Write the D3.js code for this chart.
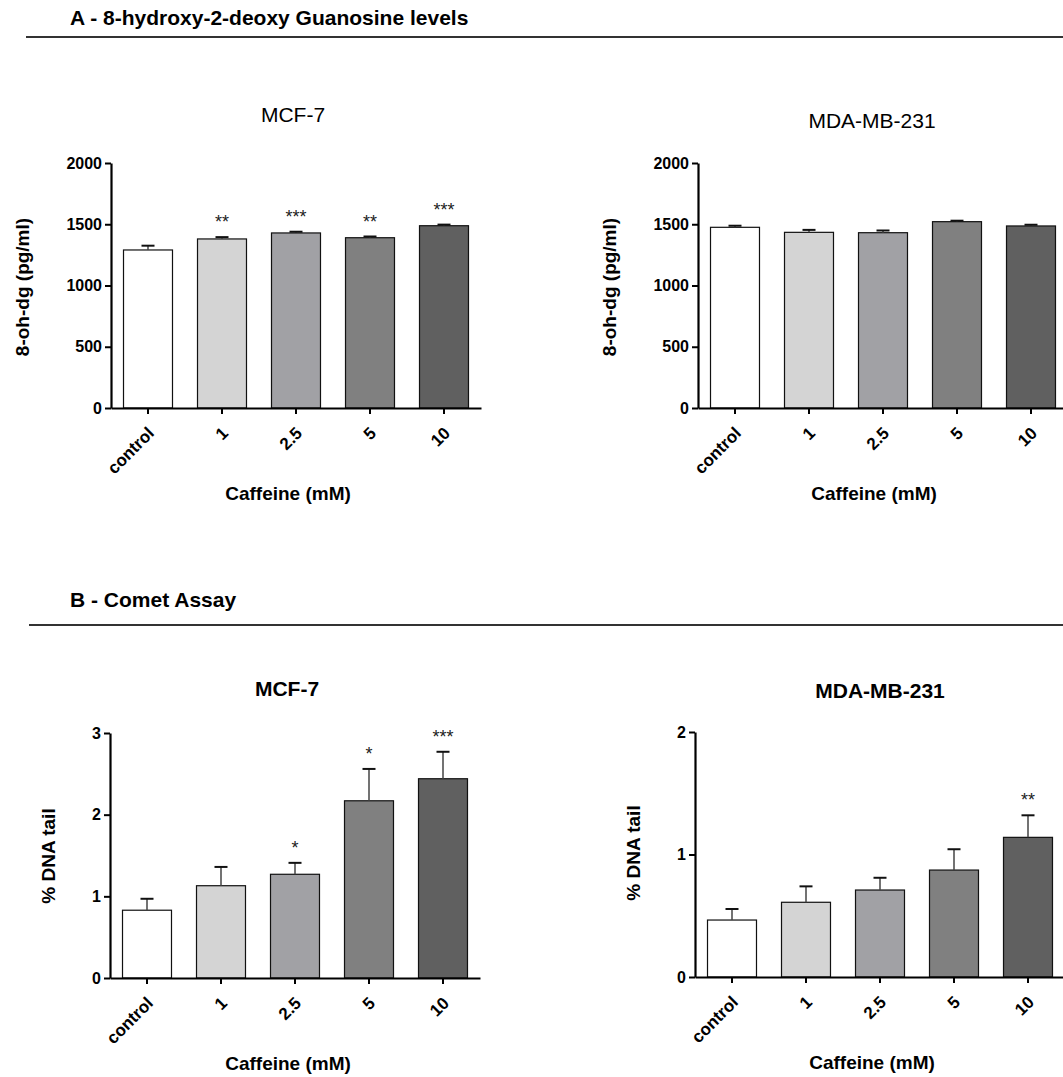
<!DOCTYPE html>
<html>
<head>
<meta charset="utf-8">
<script src="https://cdn.jsdelivr.net/npm/d3@7"></script>
<style>
  body { margin: 0; background: #fff; }
  svg { display: block; font-family: "Liberation Sans", Arial, sans-serif; }
</style>
</head>
<body>
<script>
'use strict';

// caffeine doses, shared by all four panels
const doses = ["control", "1", "2.5", "5", "10"];

// A - 8-oh-dg (pg/ml)
const ohdgTicks = [0, 500, 1000, 1500, 2000];
const ohdgMcf7 = [1290, 1380, 1429, 1390, 1488];
const ohdgMcf7Err = [35, 15, 10, 10, 9];
const ohdgMcf7Sig = ["", "**", "***", "**", "***"];
const ohdgMda = [1475, 1434, 1431, 1521, 1486];
const ohdgMdaErr = [13, 20, 18, 8, 10];
const ohdgMdaSig = ["", "", "", "", ""];

// B - comet assay (% DNA tail)
const cometMcf7Ticks = [0, 1, 2, 3];
const cometMcf7 = [0.83, 1.13, 1.27, 2.17, 2.44];
const cometMcf7Err = [0.14, 0.23, 0.14, 0.39, 0.33];
const cometMcf7Sig = ["", "", "*", "*", "***"];
const cometMdaTicks = [0, 1, 2];
const cometMda = [0.465, 0.61, 0.71, 0.873, 1.14];
const cometMdaErr = [0.09, 0.13, 0.10, 0.17, 0.18];
const cometMdaSig = ["", "", "", "", "**"];

const fills = ["#ffffff", "#d4d4d4", "#a1a1a5", "#808080", "#606060"];

const svg = d3.select('body').append('svg')
  .attr('width', 1063)
  .attr('height', 1077);

function sectionHeader(text, y, lineY, lineX) {
  svg.append('text')
    .attr('x', 70)
    .attr('y', y)
    .style('font-size', '21px')
    .style('font-weight', 'bold')
    .text(text);
  svg.append('line')
    .attr('x1', lineX).attr('x2', 1063)
    .attr('y1', lineY).attr('y2', lineY)
    .attr('stroke', '#333')
    .attr('stroke-width', 2);
}

function drawPanel(p) {
  let y = d3.scaleLinear()
    .domain([0, p.ticks[p.ticks.length - 1]])
    .range([p.bottom, p.top]);
  let x = d3.scaleBand()
    .domain(doses)
    .range([p.left, p.left + 370])
    .paddingInner(0.338)
    .paddingOuter(0.169);

  let rows = doses.map((d, i) => ({ dose: d, v: p.values[i], e: p.errors[i], sig: p.sig[i], fill: fills[i] }));

  // bars
  svg.append('g').selectAll('rect')
    .data(rows)
    .enter()
    .append('rect')
    .attr('x', (d) => x(d.dose))
    .attr('y', (d) => y(d.v))
    .attr('width', x.bandwidth())
    .attr('height', (d) => p.bottom - y(d.v))
    .attr('fill', (d) => d.fill)
    .attr('stroke', '#111')
    .attr('stroke-width', 1.2);

  // error bars (upper only)
  let err = svg.append('g');
  let cx = (d) => x(d.dose) + x.bandwidth() / 2;
  err.selectAll('.stem')
    .data(rows)
    .enter()
    .append('line')
    .attr('x1', cx).attr('x2', cx)
    .attr('y1', (d) => y(d.v))
    .attr('y2', (d) => y(d.v + d.e))
    .attr('stroke', '#444')
    .attr('stroke-width', 1.5);
  err.selectAll('.cap')
    .data(rows)
    .enter()
    .append('line')
    .attr('x1', (d) => cx(d) - 6.5).attr('x2', (d) => cx(d) + 6.5)
    .attr('y1', (d) => y(d.v + d.e))
    .attr('y2', (d) => y(d.v + d.e))
    .attr('stroke', '#111')
    .attr('stroke-width', 2);

  // significance stars
  svg.append('g').selectAll('text')
    .data(rows.filter((d) => d.sig !== ""))
    .enter()
    .append('text')
    .attr('x', cx)
    .attr('y', (d) => y(d.v + d.e) - 9)
    .attr('text-anchor', 'middle')
    .style('font-size', '18px')
    .style('fill', '#222')
    .text((d) => d.sig);

  // axes
  let yAxis = d3.axisLeft(y).tickValues(p.ticks).tickFormat(d3.format('d'))
    .tickSize(6).tickSizeOuter(0).tickPadding(3);
  let gy = svg.append('g')
    .attr('transform', 'translate(' + p.left + ',0)')
    .call(yAxis);
  gy.select('.domain').attr('stroke', '#000').attr('stroke-width', 2.2);
  gy.selectAll('.tick line').attr('stroke', '#000').attr('stroke-width', 2);
  gy.selectAll('.tick text')
    .style('font-size', '16px')
    .style('font-weight', 'bold')
    .style('font-family', '"Liberation Sans", Arial, sans-serif')
    .attr('fill', '#000');

  let xAxis = d3.axisBottom(x).tickSize(6).tickSizeOuter(0);
  let gx = svg.append('g')
    .attr('transform', 'translate(0,' + p.bottom + ')')
    .call(xAxis);
  gx.select('.domain').attr('stroke', '#000').attr('stroke-width', 2.2);
  gx.selectAll('.tick line').attr('stroke', '#000').attr('stroke-width', 2);
  gx.selectAll('.tick text')
    .attr('y', 0)
    .attr('dy', '0.35em')
    .attr('transform', 'translate(3,22)rotate(-45)')
    .attr('text-anchor', 'end')
    .style('font-size', '17px')
    .style('font-weight', 'bold')
    .style('font-family', '"Liberation Sans", Arial, sans-serif')
    .attr('fill', '#000');

  // title
  svg.append('text')
    .attr('x', p.titleX)
    .attr('y', p.titleY)
    .attr('text-anchor', 'middle')
    .attr('dominant-baseline', 'central')
    .style('font-size', '21px')
    .style('font-weight', p.titleBold ? 'bold' : 'normal')
    .text(p.title);

  // axis titles
  svg.append('text')
    .attr('transform', 'translate(' + p.yLabelX + ',' + p.yLabelY + ')rotate(-90)')
    .attr('text-anchor', 'middle')
    .attr('dominant-baseline', 'central')
    .style('font-size', '19px')
    .style('font-weight', 'bold')
    .text(p.yLabel);

  svg.append('text')
    .attr('x', p.xLabelX)
    .attr('y', p.bottom + 92)
    .attr('text-anchor', 'middle')
    .style('font-size', '19px')
    .style('font-weight', 'bold')
    .text('Caffeine (mM)');
}

sectionHeader('A - 8-hydroxy-2-deoxy Guanosine levels', 25, 37, 26);
sectionHeader('B - Comet Assay', 607, 625, 29);

drawPanel({
  values: ohdgMcf7, errors: ohdgMcf7Err, sig: ohdgMcf7Sig, ticks: ohdgTicks,
  left: 111, top: 163, bottom: 408,
  title: 'MCF-7', titleX: 293, titleY: 114, titleBold: false,
  yLabel: '8-oh-dg (pg/ml)', yLabelX: 22, yLabelY: 287, xLabelX: 288
});
drawPanel({
  values: ohdgMda, errors: ohdgMdaErr, sig: ohdgMdaSig, ticks: ohdgTicks,
  left: 698, top: 163, bottom: 408,
  title: 'MDA-MB-231', titleX: 872, titleY: 120, titleBold: false,
  yLabel: '8-oh-dg (pg/ml)', yLabelX: 609, yLabelY: 287, xLabelX: 874
});
drawPanel({
  values: cometMcf7, errors: cometMcf7Err, sig: cometMcf7Sig, ticks: cometMcf7Ticks,
  left: 110, top: 733, bottom: 978,
  title: 'MCF-7', titleX: 287, titleY: 688, titleBold: true,
  yLabel: '% DNA tail', yLabelX: 48, yLabelY: 856, xLabelX: 288
});
drawPanel({
  values: cometMda, errors: cometMdaErr, sig: cometMdaSig, ticks: cometMdaTicks,
  left: 695, top: 732, bottom: 977,
  title: 'MDA-MB-231', titleX: 880, titleY: 690, titleBold: true,
  yLabel: '% DNA tail', yLabelX: 633, yLabelY: 853, xLabelX: 872
});
</script>
</body>
</html>
